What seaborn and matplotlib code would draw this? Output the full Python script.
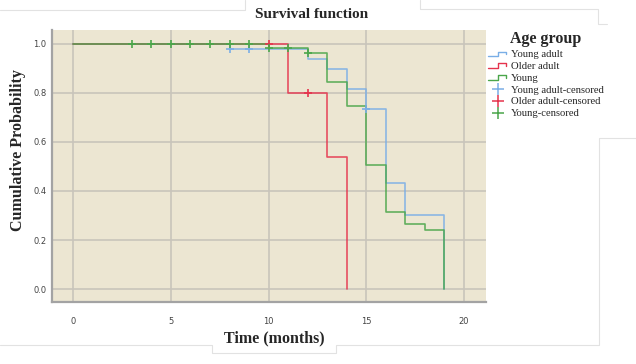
import numpy as np
import pandas as pd
import matplotlib
matplotlib.use('Agg')
import matplotlib.pyplot as plt
from matplotlib.lines import Line2D
from matplotlib.legend_handler import HandlerBase
import seaborn as sns

# survival curves (time of event, cumulative probability after it)
young_adult_t = [0, 8, 12, 13, 14, 15, 16, 17, 19]
young_adult_s = [1.0, 0.98, 0.94, 0.898, 0.816, 0.736, 0.431, 0.302, 0.0]
older_adult_t = [0, 11, 13, 14]
older_adult_s = [1.0, 0.80, 0.537, 0.0]
young_t = [0, 10, 12, 13, 14, 15, 16, 17, 18, 19]
young_s = [1.0, 0.985, 0.963, 0.844, 0.746, 0.506, 0.314, 0.264, 0.241, 0.0]

# censored cases
young_adult_cens_t = [8, 9, 15]
young_adult_cens_s = [0.98, 0.98, 0.736]
older_adult_cens_t = [10, 12]
older_adult_cens_s = [1.0, 0.80]
young_cens_t = [3, 4, 5, 6, 7, 8, 9, 10, 11, 12]
young_cens_s = [1.0, 1.0, 1.0, 1.0, 1.0, 1.0, 1.0, 0.985, 0.985, 0.963]

groups = ['Young adult', 'Older adult', 'Young']
colors = {'Young adult': '#7aaee6', 'Older adult': '#e5344d', 'Young': '#4aa64a'}

curves = pd.concat([
    pd.DataFrame({'time': young_adult_t, 'surv': young_adult_s, 'group': 'Young adult'}),
    pd.DataFrame({'time': older_adult_t, 'surv': older_adult_s, 'group': 'Older adult'}),
    pd.DataFrame({'time': young_t, 'surv': young_s, 'group': 'Young'}),
], ignore_index=True)
cens = pd.concat([
    pd.DataFrame({'time': young_adult_cens_t, 'surv': young_adult_cens_s, 'group': 'Young adult'}),
    pd.DataFrame({'time': older_adult_cens_t, 'surv': older_adult_cens_s, 'group': 'Older adult'}),
    pd.DataFrame({'time': young_cens_t, 'surv': young_cens_s, 'group': 'Young'}),
], ignore_index=True)

sns.set_style('whitegrid', {'axes.facecolor': '#ece6d2', 'grid.color': '#c8c5bb'})
plt.rcParams['font.family'] = ['DejaVu Sans']

W, H = 636, 364
fig = plt.figure(figsize=(W / 100, H / 100), dpi=100)
ax = fig.add_axes([52 / W, 1 - 302 / H, (486 - 52) / W, (302 - 30) / H])

for g in groups:
    sub = curves[curves['group'] == g]
    sns.lineplot(data=sub, x='time', y='surv', ax=ax, color=colors[g],
                 drawstyle='steps-post', estimator=None, sort=False,
                 linewidth=1.2, alpha=0.85)
for g in groups:
    sub = cens[cens['group'] == g]
    sns.scatterplot(data=sub, x='time', y='surv', ax=ax, color=colors[g],
                    marker='+', s=30, linewidth=1.2, zorder=4)

ax.set_xlim(-1.09, 21.13)
ax.set_ylim(-0.053, 1.057)
ax.set_xticks([0, 5, 10, 15, 20])
ax.set_yticks([0.0, 0.2, 0.4, 0.6, 0.8, 1.0])
ax.set_yticklabels(['0.0', '0.2', '0.4', '0.6', '0.8', '1.0'])
ax.grid(True, color='#c8c5bb', linewidth=1.2)
ax.tick_params(axis='both', length=0, labelsize=6, labelcolor='#444444')
ax.tick_params(axis='x', pad=11)
ax.tick_params(axis='y', pad=4)
ax.set_xlabel('')
ax.set_ylabel('')
for side in ['top', 'right']:
    ax.spines[side].set_visible(False)
for side in ['left', 'bottom']:
    ax.spines[side].set_color('#a3a3a3')
    ax.spines[side].set_linewidth(1.6)

serif = ['Liberation Serif', 'DejaVu Serif']
fig.text(312 / W, 1 - 15 / H, 'Survival function', ha='center', va='center',
         family=serif, fontweight='bold', fontsize=11)
fig.text(274 / W, 1 - 338 / H, 'Time (months)', ha='center', va='center',
         family=serif, fontweight='bold', fontsize=11.5)
fig.text(18 / W, 1 - 150 / H, 'Cumulative Probability', ha='center', va='center',
         rotation=90, family=serif, fontweight='bold', fontsize=11.5)


class StepHandler(HandlerBase):
    def create_artists(self, legend, orig_handle, xdescent, ydescent,
                       width, height, fontsize, trans):
        xs = np.array([0, 0.5, 0.5, 0.9, 0.9]) * width - xdescent
        ys = np.array([0.1, 0.1, 0.75, 0.75, 0.4]) * height - ydescent
        ln = Line2D(xs, ys, color=orig_handle.get_color(), linewidth=1.0,
                    transform=trans)
        return [ln]


step_handles = [Line2D([], [], color=colors[g]) for g in groups]
plus_handles = [Line2D([], [], color=colors[g], marker='+', markersize=8,
                       linestyle='none', markeredgewidth=1.1) for g in groups]
labels = groups + [g + '-censored' for g in groups]
handler_map = {h: StepHandler() for h in step_handles}
leg = fig.legend(step_handles + plus_handles, labels, handler_map=handler_map,
                 loc='upper left', bbox_to_anchor=(484 / W, 1 - 27 / H),
                 frameon=False, title='Age group', alignment='center',
                 prop={'family': serif, 'size': 7.7}, handlelength=1.8,
                 handletextpad=0.3, labelspacing=0.22, borderaxespad=0)
leg.get_title().set_fontfamily(serif)
leg.get_title().set_fontweight('bold')
leg.get_title().set_fontsize(11.5)


# faint frame lines left over from the original output
def px(pts):
    return [p[0] / W for p in pts], [1 - p[1] / H for p in pts]


frame_lines = [
    [(0, 10), (245, 10), (245, 0)],
    [(420, 0), (420, 9), (598, 9), (598, 24), (607, 24)],
    [(636, 138), (599, 138), (599, 345), (336, 345), (336, 353),
     (212, 353), (212, 345), (0, 345)],
]
for pts in frame_lines:
    xs, ys = px(pts)
    fig.add_artist(Line2D(xs, ys, color='#e2e2e2', linewidth=0.8,
                          transform=fig.transFigure))

fig.savefig('out.png', dpi=100, facecolor='white')
